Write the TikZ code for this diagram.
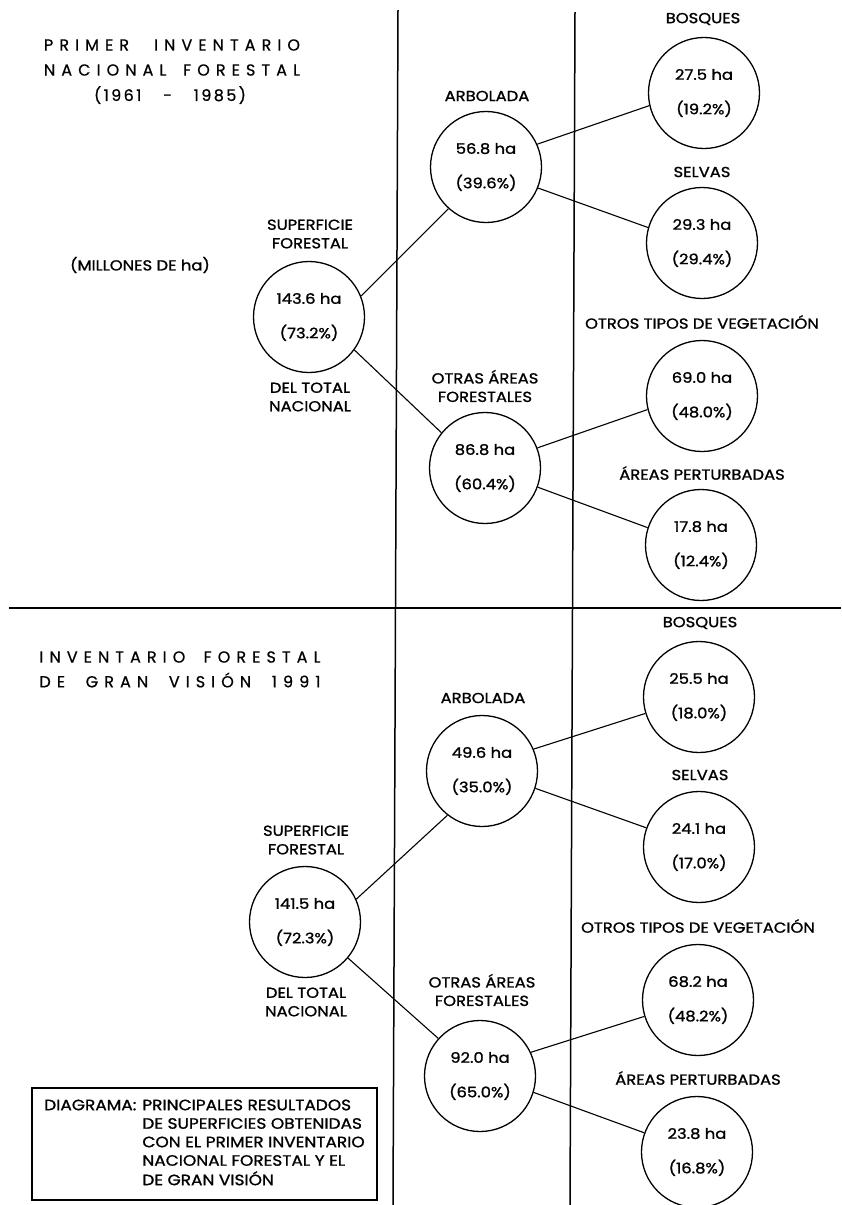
\documentclass[tikz,border=0pt]{standalone}
\usepackage{fontspec}
\setmainfont{Poppins}
\newfontfamily\titlefont[LetterSpace=38,FakeBold=0.6]{Poppins}
\newfontfamily\yearfont[LetterSpace=15,FakeBold=0.6]{Poppins}
\newfontfamily\lblface[FakeStretch=1.13,FakeBold=1.2]{Poppins}
\newcommand\lblfont{\lblface\fontsize{14.5}{18.5}\selectfont}
\newcommand\boxfont{\lblface\fontsize{15}{18.5}\selectfont}
\newcommand\vv[2]{#1\\[16pt]#2}
\begin{document}
\begin{tikzpicture}[x=1pt,y=-1pt,
  bub/.style={circle,draw,line width=1.3pt,minimum size=111pt,inner sep=0pt,align=center,font=\lblfont},
  lab/.style={align=center,font=\lblfont,inner sep=0pt},
  ttl/.style={font=\titlefont\fontsize{16}{18}\selectfont,inner sep=0pt},
  yr/.style={font=\yearfont\fontsize{16}{18}\selectfont,inner sep=0pt},
  conn/.style={line width=1.1pt},
  rulel/.style={line width=1.5pt}]
\useasboundingbox (0,0) rectangle (841,1205);
% frame rules
\coordinate (v1t) at (398,10);
\coordinate (v1b) at (393,1205);
\coordinate (v2t) at (575,12);
\coordinate (v2b) at (570,1205);
\coordinate (h1) at (9,608);
\coordinate (h2) at (841,608);
\draw[rulel] (v1t) -- (v1b);
\draw[rulel] (v2t) -- (v2b);
\draw[rulel] (h1) -- (h2);
% titles
\node[ttl] (t1) at (172,45) {\makebox[256pt][s]{PRIMER\hfill INVENTARIO}};
\node[ttl] (t2) at (172,70) {\makebox[256pt][s]{NACIONAL\hfill FORESTAL}};
\node[yr] (t3) at (170,95) {\makebox[152pt][s]{(1961\hfill -\hfill 1985)}};
\node[ttl] (t4) at (180,657) {\makebox[281pt][s]{INVENTARIO\hfill FORESTAL}};
\node[ttl] (t5) at (180,680) {\makebox[281pt][s]{DE\hfill GRAN\hfill VISIÓN\hfill 1991}};
\node[lab] (mil) at (140,265) {(MILLONES DE ha)};
% top tree
\node[lab] (sf1) at (310,234) {SUPERFICIE\\FORESTAL};
\node[bub] (r1) at (309,317) {\vv{143.6 ha}{(73.2\%)}};
\node[lab] (dt1) at (310,397) {DEL TOTAL\\NACIONAL};
\node[lab] (arbl1) at (487,96) {ARBOLADA};
\node[bub] (a1) at (486,167) {\vv{56.8 ha}{(39.6\%)}};
\node[lab] (bosl1) at (703,19) {BOSQUES};
\node[bub] (b1) at (704,93) {\vv{27.5 ha}{(19.2\%)}};
\node[lab] (sell1) at (702,172) {SELVAS};
\node[bub] (s1) at (702,243) {\vv{29.3 ha}{(29.4\%)}};
\node[lab] (otl1) at (702,322) {OTROS TIPOS DE VEGETACIÓN};
\node[bub] (o1) at (702,396) {\vv{69.0 ha}{(48.0\%)}};
\node[lab] (oal1) at (485,386) {OTRAS ÁREAS\\FORESTALES};
\node[bub] (f1) at (485,468) {\vv{86.8 ha}{(60.4\%)}};
\node[lab] (apl1) at (702,473) {ÁREAS PERTURBADAS};
\node[bub] (p1) at (701,545) {\vv{17.8 ha}{(12.4\%)}};
% bottom tree
\node[lab] (sf2) at (306,840) {SUPERFICIE\\FORESTAL};
\node[bub] (r2) at (305,922) {\vv{141.5 ha}{(72.3\%)}};
\node[lab] (dt2) at (306,1002) {DEL TOTAL\\NACIONAL};
\node[lab] (arbl2) at (483,698) {ARBOLADA};
\node[bub] (a2) at (482,771) {\vv{49.6 ha}{(35.0\%)}};
\node[lab] (bosl2) at (700,623) {BOSQUES};
\node[bub] (b2) at (699,697) {\vv{25.5 ha}{(18.0\%)}};
\node[lab] (sell2) at (700,775) {SELVAS};
\node[bub] (s2) at (699,847) {\vv{24.1 ha}{(17.0\%)}};
\node[lab] (otl2) at (698,926) {OTROS TIPOS DE VEGETACIÓN};
\node[bub] (o2) at (698,1000) {\vv{68.2 ha}{(48.2\%)}};
\node[lab] (oal2) at (482,990) {OTRAS ÁREAS\\FORESTALES};
\node[bub] (f2) at (480,1076) {\vv{92.0 ha}{(65.0\%)}};
\node[lab] (apl2) at (698,1078) {ÁREAS PERTURBADAS};
\node[bub] (p2) at (697,1152) {\vv{23.8 ha}{(16.8\%)}};
% legend box
\node[draw,line width=1.1pt,minimum width=345pt,minimum height=112pt,inner sep=0pt,font=\boxfont] (box) at (204.5,1144)
  {\begin{tabular}{@{}l@{\hspace{6pt}}l@{}}DIAGRAMA: & PRINCIPALES RESULTADOS\\
   & DE SUPERFICIES OBTENIDAS\\
   & CON EL PRIMER INVENTARIO\\
   & NACIONAL FORESTAL Y EL\\
   & DE GRAN VISIÓN\end{tabular}};
% connectors
\draw[conn] (r1.22) -- (a1.228);
\draw[conn] (r1.-36) -- (f1.141);
\draw[conn] (a1.24) -- (b1.193);
\draw[conn] (a1.-22) -- (s1.164);
\draw[conn] (f1.21) -- (o1.194);
\draw[conn] (f1.-20) -- (p1.162);
\draw[conn] (r2.24) -- (a2.232);
\draw[conn] (r2.-40) -- (f2.138);
\draw[conn] (a2.23) -- (b2.197);
\draw[conn] (a2.-18) -- (s2.160);
\draw[conn] (f2.25) -- (o2.197);
\draw[conn] (f2.-17) -- (p2.160);
\end{tikzpicture}
\end{document}
